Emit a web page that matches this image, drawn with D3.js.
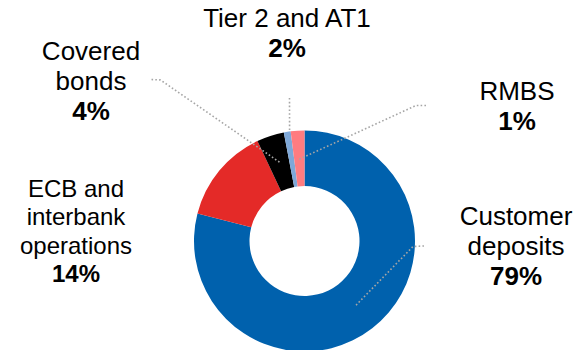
<!DOCTYPE html>
<html>
<head>
<meta charset="utf-8">
<script src="https://cdn.jsdelivr.net/npm/d3@7"></script>
<style>
  html, body { margin: 0; padding: 0; background: #fff; }
  svg { display: block; }
  text { font-family: "Liberation Sans", Arial, sans-serif; fill: #000; }
</style>
</head>
<body>
<svg id="chart" width="577" height="350"></svg>
<script>
// Funding mix (share of total, %)
const categories = ["Customer deposits", "ECB and interbank operations", "Covered bonds", "RMBS", "Tier 2 and AT1"];
const shares = [79, 14, 4, 1, 2];
const colors = ["#0061AD", "#E42A28", "#000000", "#7EA8D8", "#FF7C80"];

// Label text lines per category (name lines, then the bold percentage)
const labelLines = [
  ["Customer", "deposits"],
  ["ECB and", "interbank", "operations"],
  ["Covered", "bonds"],
  ["RMBS"],
  ["Tier 2 and AT1"]
];

// Label layout: centre x, first baseline, line step, font size
const labelLayout = [
  { x: 516, y: 225, step: 30, size: 26 },
  { x: 76, y: 197, step: 28.4, size: 24 },
  { x: 91, y: 59.5, step: 30, size: 26 },
  { x: 517, y: 100, step: 30, size: 26 },
  { x: 287, y: 27, step: 30, size: 26 }
];

// Leader lines: elbow points near the label, then an anchor on the ring (angle in degrees, radius)
const leaders = [
  { from: [[424, 246], [413, 246.5]], anchor: [142.2, 82.5] },
  null,
  { from: [[151.5, 79.5], [160.5, 80]], anchor: [342.5, 82.5] },
  { from: [[426, 105.5], [416, 105.5]], anchor: [356.4, 82] },
  { from: [[289.5, 98]], anchor: [352.2, 110] }
];

const svg = d3.select("#chart");
const cx = 304.5, cy = 241;
const outerR = 110.5, innerR = 55;

const pie = d3.pie().sort(null).value(d => d).startAngle(0).endAngle(2 * Math.PI);
const arc = d3.arc().innerRadius(innerR).outerRadius(outerR);
const color = d3.scaleOrdinal().domain(categories).range(colors);

const g = svg.append("g").attr("transform", `translate(${cx},${cy})`);

g.selectAll("path.slice")
  .data(pie(shares))
  .join("path")
  .attr("class", "slice")
  .attr("d", arc)
  .attr("fill", (d, i) => color(categories[i]));

// Leader lines (dotted grey)
const line = d3.line();
leaders.forEach(l => {
  if (!l) return;
  const p = d3.pointRadial(l.anchor[0] * Math.PI / 180, l.anchor[1]);
  const pts = l.from.concat([[cx + p[0], cy + p[1]]]);
  svg.append("path")
    .attr("d", line(pts))
    .attr("fill", "none")
    .attr("stroke", "#A6A6A6")
    .attr("stroke-width", 1.6)
    .attr("stroke-dasharray", "1.6,2.2");
});

// Labels
categories.forEach((c, i) => {
  const L = labelLayout[i];
  const t = svg.append("text")
    .attr("text-anchor", "middle")
    .style("font-size", L.size + "px");
  labelLines[i].forEach((s, k) => {
    t.append("tspan").attr("x", L.x).attr("y", L.y + k * L.step).text(s);
  });
  t.append("tspan")
    .attr("x", L.x)
    .attr("y", L.y + labelLines[i].length * L.step)
    .style("font-weight", "bold")
    .text(d3.format(".0f")(shares[i]) + "%");
});
</script>
</body>
</html>
